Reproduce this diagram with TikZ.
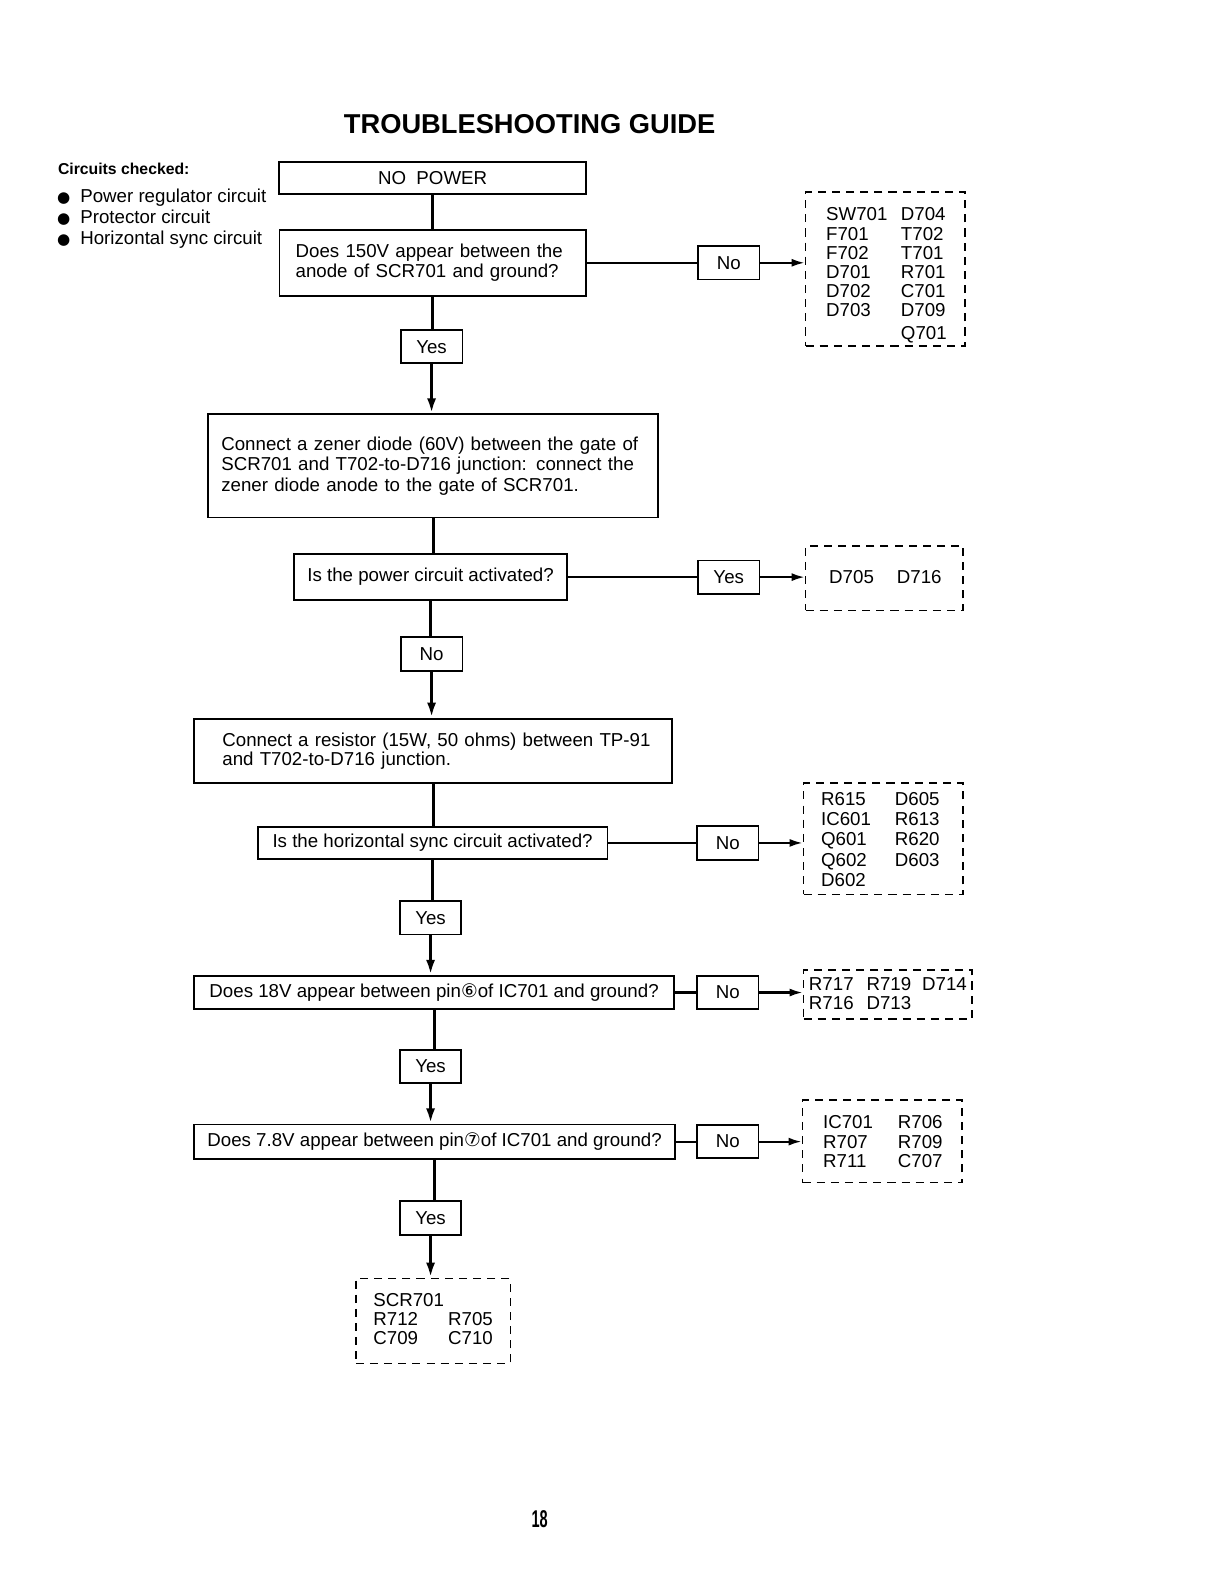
\documentclass[tikz,border=0pt]{standalone}
\usepackage{fontspec}
\usepackage{graphicx}
\setmainfont{Liberation Sans}
\newfontfamily\symf{DejaVu Sans}
\usetikzlibrary{arrows.meta}
\tikzset{
 box/.style={draw,line width=0.9pt,inner sep=0pt,font=\fontsize{9.25}{10}\selectfont,align=center},
 small/.style={box,minimum width=30.5pt,minimum height=16.5pt},
 dbox/.style={draw,dash pattern=on 4pt off 3pt,line width=0.85pt,inner sep=0pt},
 conn/.style={line width=1.5pt},
 arr/.style={line width=1.5pt,-{Latex[length=7.5pt,width=4.5pt]}},
 hconn/.style={line width=1.1pt},
 harr/.style={line width=1.1pt,-{Latex[length=6.5pt,width=4pt]}},
 plist/.style={inner sep=0pt,anchor=base west,align=left,font=\fontsize{9.25}{9.5}\selectfont},
}
\begin{document}
\begin{tikzpicture}[x=0.5pt,y=-0.5pt]
\useasboundingbox (0,0) rectangle (1211,1567.2);

% title and notes
\node[font=\fontsize{13.5}{14}\selectfont\bfseries,anchor=base,inner sep=0pt] (title) at (524,132) {TROUBLESHOOTING GUIDE};
\node[font=\fontsize{7.8}{9}\selectfont\bfseries,anchor=base west,inner sep=0pt] (chk) at (57,173) {Circuits checked:};
\node[anchor=base west,inner sep=0pt,font=\fontsize{9.25}{10.5}\selectfont] (bul) at (56,200)
 {\begin{tabular}[t]{@{}l@{\hspace{5pt}}l@{}}
 {\symf\fontsize{7.5}{7}\selectfont ●} & Power regulator circuit\\
 {\symf\fontsize{7.5}{7}\selectfont ●} & Protector circuit\\
 {\symf\fontsize{7.5}{7}\selectfont ●} & Horizontal sync circuit
 \end{tabular}};

% main column
\node[box,minimum width=152pt,minimum height=16pt] (start) at (428,176) {NO\ \ POWER};
\node[box,align=left,text width=135.5pt,inner xsep=8pt,minimum height=32.5pt] (q1) at (428,260)
 {\makebox[135.5pt][s]{Does 150V appear between the}\\anode of SCR701 and ground?};
\node[small] (yes1) at (427,343) {Yes};
\node[box,align=left,text width=209.5pt,inner xsep=6.5pt,minimum height=51pt,font=\fontsize{9.25}{10.25}\selectfont] (act1) at (428.5,461)
 {\makebox[209.5pt][s]{Connect a zener diode (60V) between the gate of}\\
  \makebox[209.5pt][s]{SCR701 and T702-to-D716 junction: connect the}\\
  zener diode anode to the gate of SCR701.};
\node[box,minimum width=135pt,minimum height=23pt] (q2) at (426,571) {Is the power circuit activated?};
\node[small] (no2) at (427,647) {No};
\node[box,align=left,text width=222.5pt,inner xsep=7pt,minimum height=32pt,font=\fontsize{9.25}{9.5}\selectfont] (act2) at (428.5,743)
 {\hspace*{7pt}Connect a resistor (15W, 50 ohms) between TP-91\\\hspace*{7pt}and T702-to-D716 junction.};
\node[box,minimum width=173pt,minimum height=16pt] (q3) at (428,834) {Is the horizontal sync circuit activated?};
\node[small] (yes3) at (426,908) {Yes};
\node[box,minimum width=237.5pt,minimum height=16.5pt] (q4) at (429.5,982) {Does 18V appear between pin{\symf ⑥}of IC701 and ground?};
\node[small] (yes4) at (426,1055) {Yes};
\node[box,minimum width=238pt,minimum height=17pt] (q5) at (430,1129.5) {Does 7.8V appear between pin{\symf ⑦}of IC701 and ground?};
\node[small] (yes5) at (426,1205) {Yes};

% right column
\node[small] (no1) at (721,260) {No};
\node[small] (yes2) at (721,571) {Yes};
\node[small] (no3) at (720,834) {No};
\node[small] (no4) at (720,982) {No};
\node[small] (no5) at (720,1129.5) {No};

% dashed part lists
\node[dbox,minimum width=79pt,minimum height=76pt] (p1) at (876,266) {};
\node[plist] (p1t) at (817,218.5) {\begin{tabular}[t]{@{}p{37pt}@{}l@{}}
 SW701 & D704\\ F701 & T702\\ F702 & T701\\ D701 & R701\\ D702 & C701\\ D703 & D709\\[1.5pt] & Q701\end{tabular}};
\node[dbox,minimum width=78pt,minimum height=32pt] (p2) at (875,572) {};
\node[plist] (p2t) at (820,577.5) {\begin{tabular}[t]{@{}p{33.5pt}@{}l@{}}D705 & D716\end{tabular}};
\node[dbox,minimum width=79pt,minimum height=55pt] (p3) at (874,830) {};
\node[plist,font=\fontsize{9.25}{10.1}\selectfont] (p3t) at (812,796.5) {\begin{tabular}[t]{@{}p{36.5pt}@{}l@{}}
 R615 & D605\\ IC601 & R613\\ Q601 & R620\\ Q602 & D603\\ D602 & \end{tabular}};
\node[dbox,minimum width=83.5pt,minimum height=24pt] (p4) at (878.5,984) {};
\node[plist] (p4t) at (800,979.5) {\begin{tabular}[t]{@{}p{28.5pt}@{}p{27.5pt}@{}l@{}}
 R717 & R719 & D714\\ R716 & D713 & \end{tabular}};
\node[dbox,minimum width=79pt,minimum height=41pt] (p5) at (873,1129) {};
\node[plist,font=\fontsize{9.25}{9.75}\selectfont] (p5t) at (814,1116.5) {\begin{tabular}[t]{@{}p{37pt}@{}l@{}}
 IC701 & R706\\ R707 & R709\\ R711 & C707\end{tabular}};
\node[dbox,minimum width=76.5pt,minimum height=42pt] (p6) at (428.5,1307) {};
\node[plist] (p6t) at (369,1292.5) {\begin{tabular}[t]{@{}p{37pt}@{}l@{}}
 SCR701 & \\ R712 & R705\\ C709 & C710\end{tabular}};

% vertical connectors
\draw[conn] (start.south) -- (start.south |- q1.north);
\draw[conn] (q1.south) -- (q1.south |- yes1.north);
\draw[arr] (yes1.south) -- (yes1.south |- act1.north);
\draw[conn] (act1.south) -- (act1.south |- q2.north);
\draw[conn] (q2.south) -- (q2.south |- no2.north);
\draw[arr] (no2.south) -- (no2.south |- act2.north);
\draw[conn] (act2.south) -- (act2.south |- q3.north);
\draw[conn] (q3.south) -- (q3.south |- yes3.north);
\draw[arr] (yes3.south) -- (yes3.south |- q4.north);
\draw[conn] (q4.south) -- (q4.south |- yes4.north);
\draw[arr] (yes4.south) -- (yes4.south |- q5.north);
\draw[conn] (q5.south) -- (q5.south |- yes5.north);
\draw[arr] (yes5.south) -- (yes5.south |- p6.north);

% horizontal connectors
\draw[hconn] (q1.east |- no1.west) -- (no1.west);
\draw[harr] (no1.east) -- (no1.east -| p1.west);
\draw[hconn] (q2.east |- yes2.west) -- (yes2.west);
\draw[harr] (yes2.east) -- (yes2.east -| p2.west);
\draw[hconn] (q3.east |- no3.west) -- (no3.west);
\draw[harr] (no3.east) -- (no3.east -| p3.west);
\draw[hconn] (q4.east |- no4.west) -- (no4.west);
\draw[harr] (no4.east) -- (no4.east -| p4.west);
\draw[hconn] (q5.east |- no5.west) -- (no5.west);
\draw[harr] (no5.east) -- (no5.east -| p5.west);

% page number
\node[font=\fontsize{12}{12}\selectfont\bfseries,anchor=base,inner sep=0pt] (pg) at (534,1511) {\scalebox{0.6}[1]{18}};
\end{tikzpicture}
\end{document}
